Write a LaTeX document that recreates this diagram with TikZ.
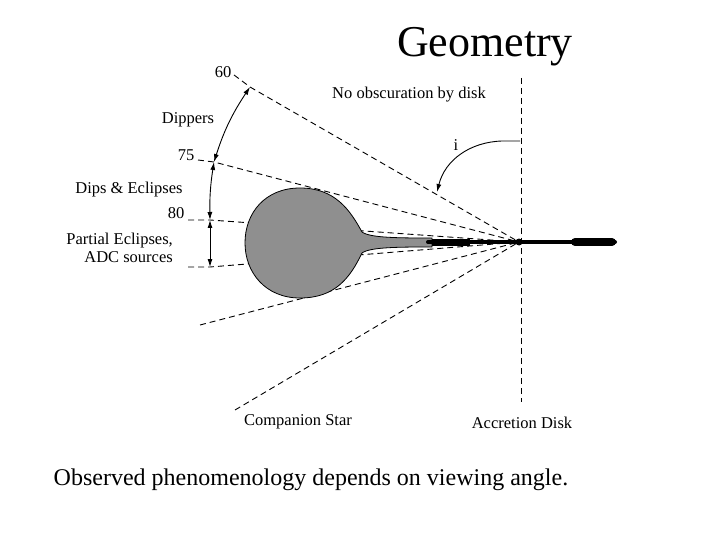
\documentclass[tikz,border=0pt]{standalone}
\usepackage{fontspec}
\setmainfont{Liberation Serif}
\usetikzlibrary{arrows.meta}
\definecolor{stargray}{HTML}{8F8F8F}
\begin{document}
\begin{tikzpicture}[x=1pt,y=-1pt,
  dl/.style={dashed,dash pattern=on 6pt off 4pt,line width=0.9pt},
  lab/.style={font=\fontsize{16.5}{18}\selectfont,inner sep=1pt},
  dbl/.style={{Latex[length=8pt,width=5pt]}-{Latex[length=8pt,width=5pt]},line width=0.9pt}]
\useasboundingbox (0,0) rectangle (720,540);
\coordinate (c) at (519,242);
\coordinate (p60) at (250,87);
\coordinate (p75) at (214,162);
\coordinate (p80) at (210,220);
\coordinate (p90) at (210,267);
% vertical
\draw[dl] (521,78) -- (521,402);
% sight lines
\draw[dl] (234,75) -- (p60) -- (c);
\draw[dl] (198,160) -- (p75) -- (c);
\draw[dl] (188,220) -- (p80) -- (c);
\draw[dl] (188,267) -- (p90) -- (c);
\draw[dl] (200,325) -- (c);
\draw[dl] (235,410) -- (c);
% star
\fill[stargray,draw=black,line width=0.8pt]
  (300,188) .. controls (335,188) and (350,210) .. (362,232)
  .. controls (370,238) and (400,238) .. (432,238) -- (432,247)
  .. controls (400,247) and (370,247) .. (362,253)
  .. controls (350,278) and (335,298) .. (300,298)
  .. controls (265,298) and (245,272) .. (245,243)
  .. controls (245,213) and (265,188) .. (300,188) -- cycle;
% disk
\draw[line width=4pt,line cap=round] (428,242) -- (615,242);
\draw[line width=7pt] (432,242) -- (470,242);
\draw[line width=8pt,line cap=round] (575,242) -- (612,242);
\fill (519,242) circle (3.5pt);
% angle arrows
\draw[dbl] (p60) to[bend right=8] (p75);
\draw[dbl] (p75) to[bend right=5] (p80);
\draw[dbl] (p80) -- (p90);
% i arrow
\draw[line width=0.9pt,-{Latex[length=8pt,width=5pt]}] (520,141) -- (502,141) .. controls (470,142) and (445,160) .. (437,192);
% labels
\node[lab] at (223,72) {60};
\node[lab] at (188,120) {Dippers};
\node[lab] at (186,155) {75};
\node[lab] at (129,190) {Dips \& Eclipses};
\node[lab] at (176,213) {80};
\node[lab,align=right,anchor=east] at (174,248) {Partial Eclipses,\\ADC sources};
\node[lab] at (409,95) {No obscuration by disk};
\node[lab] at (456,145) {i};
\node[lab] at (298,422) {Companion Star};
\node[lab] at (522,423) {Accretion Disk};
\node[font=\fontsize{44}{48}\selectfont] at (485,47) {Geometry};
\node[font=\fontsize{24}{28}\selectfont] at (311,480) {Observed phenomenology depends on viewing angle.};
\end{tikzpicture}
\end{document}
